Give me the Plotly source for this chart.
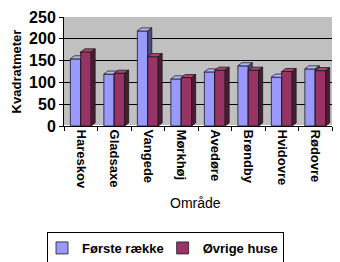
import plotly.graph_objects as go

categories = ["Hareskov", "Gladsaxe", "Vangede", "Mørkhøj", "Avedøre", "Brøndby", "Hvidovre", "Rødovre"]
forste = [154, 119, 218, 108, 124, 138, 112, 131]
ovrige = [170, 121, 159, 111, 128, 128, 125, 127]
series_names = ["Første række", "Øvrige huse"]

font = "Liberation Sans, Arial, sans-serif"
colors = [("#9999ff", "#b8b8ff", "#4d4d80"), ("#993366", "#a8476f", "#4d1a33")]
edge = "#1a1a1a"

fig = go.Figure()
for name, vals, (c, _, _) in zip(series_names, [forste, ovrige], colors):
    fig.add_trace(go.Bar(x=categories, y=vals, name=name,
                         marker=dict(color=c, line=dict(color=edge, width=0.8))))

# pseudo-3D faces, positioned from the data through the axes
bargap = 0.38
w = (1 - bargap) / 2
dx, dy = 0.12, 7
shapes = []
for i in range(len(categories)):
    for s, vals in enumerate([forste, ovrige]):
        front, top, side = colors[s]
        x0 = i - w + s * w
        x1 = x0 + w
        v = vals[i]
        if s == 1:
            shapes.append(dict(type="rect", xref="x", yref="y", x0=x0, x1=x1, y0=0, y1=v,
                               fillcolor=front, line=dict(color=edge, width=0.8)))
        shapes.append(dict(type="path", xref="x", yref="y",
                           path=f"M {x0},{v} L {x1},{v} L {x1+dx},{v+dy} L {x0+dx},{v+dy} Z",
                           fillcolor=top, line=dict(color=edge, width=0.8)))
        shapes.append(dict(type="path", xref="x", yref="y",
                           path=f"M {x1},0 L {x1},{v} L {x1+dx},{v+dy} L {x1+dx},{dy} Z",
                           fillcolor=side, line=dict(color=edge, width=0.8)))

fig.update_layout(
    width=340, height=262,
    margin=dict(l=64, r=8, t=17, b=136, autoexpand=False),
    paper_bgcolor="white", plot_bgcolor="#c0c0c0",
    barmode="group", bargap=bargap, bargroupgap=0,
    font=dict(family=font, color="black", size=12),
    shapes=shapes,
    showlegend=True,
    legend=dict(orientation="h", xref="container", yref="container",
                x=47 / 340, xanchor="left", y=(262 - 232) / 262, yanchor="top",
                bordercolor="black", borderwidth=1, bgcolor="white",
                font=dict(size=13, family=font, weight="bold"), itemwidth=30,
                tracegroupgap=0, indentation=-6),
    annotations=[dict(text="Område", xref="paper", yref="paper", x=0.49, y=-0.71,
                      xanchor="center", yanchor="middle", showarrow=False,
                      font=dict(size=14, family=font))],
    xaxis=dict(tickangle=90, tickson="boundaries", ticks="outside", ticklen=4,
               tickcolor="black", showline=True, linecolor="black", automargin=False,
               tickfont=dict(size=13, family=font, weight="bold")),
    yaxis=dict(range=[0, 250], dtick=50, ticks="outside", ticklen=4, tickcolor="black",
               showline=True, linecolor="black", gridcolor="black", gridwidth=1,
               automargin=False,
               tickfont=dict(size=16, family=font, weight="bold"),
               title=dict(text="Kvadratmeter", font=dict(size=13, family=font, weight="bold"),
                          standoff=4)),
)
fig.write_html("out.html")
